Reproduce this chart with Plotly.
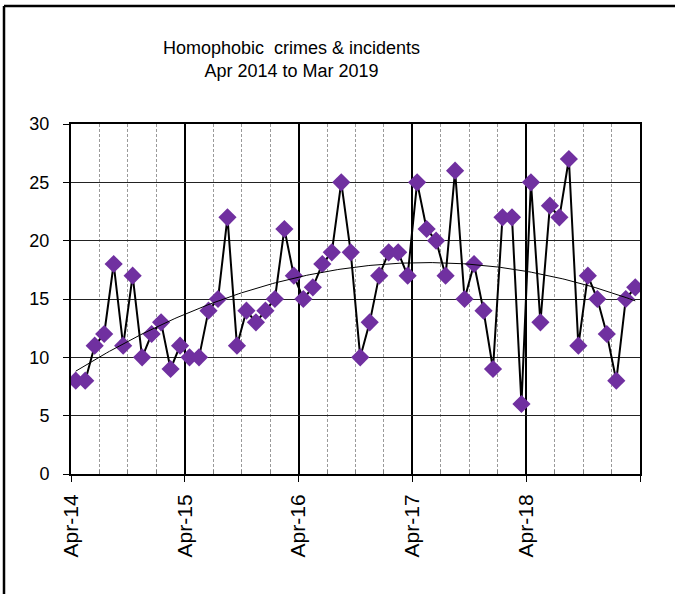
import numpy as np
import plotly.graph_objects as go

# Monthly counts, Apr 2014 .. Mar 2019
months = [f"{m}-{y}" for y in range(14, 19) for m in
          ["Apr", "May", "Jun", "Jul", "Aug", "Sep", "Oct", "Nov", "Dec", "Jan", "Feb", "Mar"]]
counts = [8, 8, 11, 12, 18, 11, 17, 10, 12, 13, 9, 11,
          10, 10, 14, 15, 22, 11, 14, 13, 14, 15, 21, 17,
          15, 16, 18, 19, 25, 19, 10, 13, 17, 19, 19, 17,
          25, 21, 20, 17, 26, 15, 18, 14, 9, 22, 22, 6,
          25, 13, 23, 22, 27, 11, 17, 15, 12, 8, 15, 16]
year_labels = ["Apr-14", "Apr-15", "Apr-16", "Apr-17", "Apr-18", ""]

idx = np.arange(len(counts))
# second-order polynomial trend
coef = np.polyfit(idx, counts, 2)
tx = np.linspace(idx[0], idx[-1], 200)
ty = np.polyval(coef, tx)

W, H = 675, 594
L, R, T, B = 71, 35, 124, 120
pw, ph = W - L - R, H - T - B

def px(x):
    return (x - L) / pw

def py(y):
    return (H - B - y) / ph

fig = go.Figure()
fig.add_trace(go.Scatter(x=idx, y=counts, mode="lines+markers",
                         line=dict(color="black", width=2),
                         marker=dict(symbol="diamond", size=14, color="#7030A0",
                                     line=dict(width=0)),
                         text=months, hoverinfo="text+y", showlegend=False))
fig.add_trace(go.Scatter(x=tx, y=ty, mode="lines",
                         line=dict(color="black", width=1),
                         hoverinfo="skip", showlegend=False))

n = len(counts)
major = list(np.arange(-0.5, n, 12))
minor = [v for v in np.arange(-0.5, n, 3) if (v + 0.5) % 12 != 0]

fig.update_xaxes(range=[-0.5, n - 0.5], tickmode="array", tickvals=major,
                 ticktext=year_labels, tickangle=-90,
                 ticks="outside", ticklen=6, tickwidth=1, tickcolor="black",
                 showgrid=True, gridcolor="black", gridwidth=2,
                 showline=True, linecolor="black", linewidth=2, mirror=True,
                 zeroline=False,
                 minor=dict(tickmode="array", tickvals=minor, showgrid=True,
                            gridcolor="#9a9a9a", griddash="3px,2px", gridwidth=1,
                            ticks="inside", ticklen=4, tickcolor="#7f7f7f"),
                 tickfont=dict(family="Liberation Sans, Arial", size=21, color="black"),
                 ticklabelstandoff=4)
fig.update_yaxes(range=[0, 30], dtick=5, tick0=0,
                 ticks="outside", ticklen=6, tickwidth=1, tickcolor="black",
                 showgrid=True, gridcolor="#222222", gridwidth=1,
                 showline=True, linecolor="black", linewidth=2, mirror=True,
                 zeroline=False,
                 tickfont=dict(family="Liberation Sans, Arial", size=18, color="black"),
                 ticklabelstandoff=10)

fig.add_annotation(text="Homophobic\u00a0 crimes &amp; incidents<br>Apr 2014 to Mar 2019",
                   xref="paper", yref="paper", x=px(291), y=py(59), xanchor="center",
                   yanchor="middle", showarrow=False, align="center",
                   font=dict(family="Liberation Sans, Arial", size=18, color="black"))

# outer frame (top and left edges)
fig.add_shape(type="line", xref="paper", yref="paper", x0=px(4), x1=px(W + 5),
              y0=py(6), y1=py(6), line=dict(color="black", width=2.5))
fig.add_shape(type="line", xref="paper", yref="paper", x0=px(4), x1=px(4),
              y0=py(6), y1=py(H + 5), line=dict(color="black", width=2.5))

fig.update_layout(width=W, height=H, margin=dict(l=L, r=R, t=T, b=B),
                  plot_bgcolor="white", paper_bgcolor="white",
                  font=dict(family="Liberation Sans, Arial", color="black"))

fig.write_html("out.html")
